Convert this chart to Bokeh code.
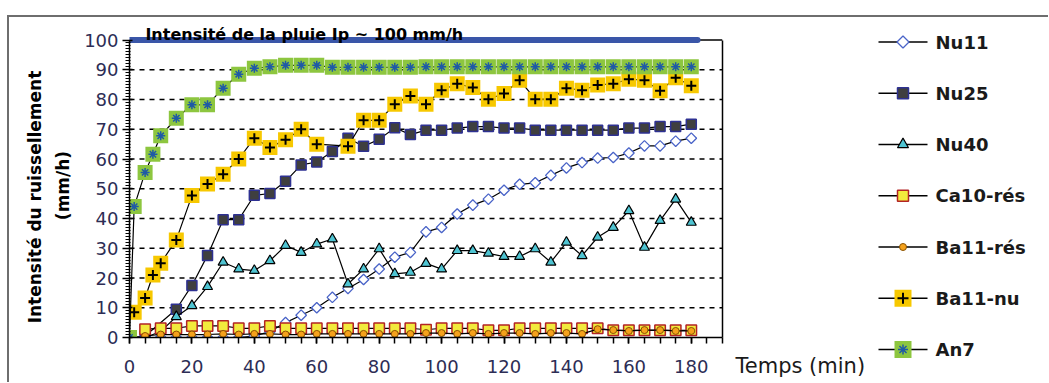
import math
from bokeh.plotting import figure
from bokeh.models import Range1d, FixedTicker, LinearAxis, Div
from bokeh.layouts import row, column
from bokeh.embed import file_html
from bokeh.resources import INLINE
from bokeh.core.properties import value

# ---------------- data ----------------
t5 = [0, 5, 10, 15, 20, 25, 30, 35, 40, 45, 50, 55, 60, 65, 70, 75, 80, 85, 90,
      95, 100, 105, 110, 115, 120, 125, 130, 135, 140, 145, 150, 155, 160, 165,
      170, 175, 180]

nu11_x = t5
nu11_y = [0, 0, 0, 0, 0, 0, 0, 0, 0.5, 2, 5, 7.5, 10, 13.5, 16.5, 19.5, 23, 27,
          28.6, 35.5, 37, 41.5, 44.5, 46.5, 49.5, 51.5, 52, 54.5, 57, 58.8, 60.3,
          60.5, 62, 64.4, 64.4, 66, 67]

nu25_x = [0, 5, 15, 20, 25, 30, 35, 40, 45, 50, 55, 60, 65, 70, 75, 80, 85, 90,
          95, 100, 105, 110, 115, 120, 125, 130, 135, 140, 145, 150, 155, 160,
          165, 170, 175, 180]
nu25_y = [0, 0.5, 9.5, 17.5, 27.6, 39.6, 39.6, 47.8, 48.4, 52.5, 58, 59,
          62.5, 67, 64.3, 66.6, 70.5, 68.2, 69.7, 69.7, 70.4, 70.9, 70.9, 70.4,
          70.4, 69.7, 69.7, 69.7, 69.7, 69.7, 69.7, 70.4, 70.4, 70.9, 70.9, 71.7]

nu40_x = t5
nu40_y = [0, 0, 2, 7, 10.7, 17.1, 25.3, 23, 22.5, 25.8, 30.9, 28.6, 31.4, 33.1,
          18, 23, 29.8, 21.4, 21.9, 24.9, 23, 29.2, 29.2, 28.3, 27.2, 27.2, 29.8,
          25.3, 32, 27.5, 33.7, 37, 42.6, 30.3, 39.3, 46.5, 38.7]

ca10_x = t5[1:]
ca10_y = [2.8, 3.1, 3.1, 3.9, 3.9, 3.9, 3.1, 3.1, 3.9, 3.1, 3.1, 3.1, 3.1, 3.1,
          3.1, 3.1, 3.1, 3.1, 2.6, 3.1, 3.1, 3.1, 2.4, 2.4, 3.1, 3.1, 3.1, 3.1,
          3.1, 3.1, 2.4, 2.4, 2.4, 2.4, 2.4, 2.4]

ba11res_x = t5[1:]
ba11res_y = [0.5, 1, 1, 1, 1, 1.2, 1, 1.2, 1.2, 1, 1, 1.2, 1.2, 1.2, 1.2, 1.2,
             1.2, 1.2, 1.5, 1.5, 1.2, 1.5, 1.2, 1.5, 1.5, 1.2, 1.5, 1.5, 1.2,
             2.8, 2.5, 2.2, 2.5, 2.5, 2.2, 2.2]

ba11nu_x = [1.5, 5, 7.5, 10, 15, 20, 25, 30, 35, 40, 45, 50, 55, 60, 70, 75, 80,
            85, 90, 95, 100, 105, 110, 115, 120, 125, 130, 135, 140, 145, 150,
            155, 160, 165, 170, 175, 180]
ba11nu_y = [8.5, 13.3, 21, 25, 32.8, 47.7, 51.6, 54.9, 60, 67, 63.9, 66.5, 70, 65,
            64.3, 73, 73, 78.4, 81.2, 78.4, 83.1, 85.3, 84, 80.1, 82, 86.5, 80.1,
            80.1, 83.8, 83.1, 84.9, 85.3, 86.8, 86.5, 82.9, 87.3, 84.6]

an7_x = [0, 1.5, 5, 7.5, 10, 15, 20, 25, 30, 35, 40, 45, 50, 55, 60, 65, 70, 75,
         80, 85, 90, 95, 100, 105, 110, 115, 120, 125, 130, 135, 140, 145, 150,
         155, 160, 165, 170, 175, 180]
an7_y = [0, 44, 55.5, 61.6, 67.8, 73.7, 78.2, 78.2, 83.8, 88.5, 90.5, 91, 91.5,
         91.5, 91.5, 90.8, 90.8, 90.8, 90.8, 90.8, 90.8, 91, 91, 91, 91, 91, 91,
         91, 91, 91, 91, 91, 91, 91, 91, 91, 91, 91, 91]

rain_x = [0, 182]
rain_y = [100, 100]

series_names = ["Nu11", "Nu25", "Nu40", "Ca10-rés", "Ba11-rés", "Ba11-nu", "An7"]
title_text = "Intensité de la pluie Ip ~ 100 mm/h"
ylabel_1 = "Intensité du ruissellement"
ylabel_2 = "(mm/h)"
xlabel = "Temps (min)"
x_major = [0, 20, 40, 60, 80, 100, 120, 140, 160, 180]
x_minor = list(range(0, 195, 5))
y_major = [0, 10, 20, 30, 40, 50, 60, 70, 80, 90, 100]
y_grid = [10, 20, 30, 40, 50, 60, 70, 80, 90]
y_minor = list(range(0, 101, 1))
X_MAX = 190
Y_MAX = 100

# ---------------- styles ----------------
FONT = "DejaVu Sans"
BORDER = "#6e6e6e"
styles = [
    [dict(marker="square", angle=math.pi / 4, fill_color="white", line_color="#4a64c8", line_width=1.3, size=7.5, lsize=8.5)],
    [dict(marker="square", fill_color="#3f3f3f", line_color="#2e3192", line_width=1.5, size=10, lsize=11)],
    [dict(marker="triangle", fill_color="#4fc4d2", line_color="black", line_width=1.2, size=10, lsize=11)],
    [dict(marker="square", fill_color="#f2ea3c", line_color="#b32424", line_width=1.5, size=10.5, lsize=11)],
    [dict(marker="circle", fill_color="#f5a21c", line_color="#8a5200", line_width=1, size=7, lsize=7)],
    [dict(marker="square", fill_color="#f7c800", line_color=None, line_width=0, size=15, lsize=17),
     dict(marker="cross", fill_color=None, line_color="black", line_width=2, size=10, lsize=11)],
    [dict(marker="square", fill_color="#8dc63f", line_color=None, line_width=0, size=15, lsize=17),
     dict(marker="asterisk", fill_color=None, line_color="#1f5aa6", line_width=1.5, size=9, lsize=10)],
]
data = [(nu11_x, nu11_y), (nu25_x, nu25_y), (nu40_x, nu40_y), (ca10_x, ca10_y),
        (ba11res_x, ba11res_y), (ba11nu_x, ba11nu_y), (an7_x, an7_y)]

# ---------------- layout geometry (pixels) ----------------
TOP_GAP = 15
LEFT_GAP = 7
ROW_H = 365
WA, WB, WC = 652, 318, 69
FRAME_TOP_PAD = 0
FRAME_BOTTOM_PAD = 45
frame_h = ROW_H - FRAME_TOP_PAD - FRAME_BOTTOM_PAD          # 320 px
px_per_y = 2.975                                              # 10 units ~ 29.75 px
y_end = frame_h / px_per_y

# ---------------- main figure ----------------
p = figure(width=WA, height=ROW_H, x_range=Range1d(0, X_MAX), y_range=Range1d(0, y_end),
           output_backend="svg", toolbar_location=None, title=None,
           min_border_left=51, min_border_right=8, min_border_top=FRAME_TOP_PAD,
           min_border_bottom=FRAME_BOTTOM_PAD, x_axis_type=None, y_axis_type=None)
p.frame_align = False
p.outline_line_color = None
p.background_fill_color = "white"
p.border_fill_color = "white"

tick_color = "#2d2d55"
xax = LinearAxis(ticker=FixedTicker(ticks=x_major, minor_ticks=x_minor))
xax.axis_line_color = "black"
xax.axis_line_width = 1.5
xax.major_tick_in = 0
xax.major_tick_out = 6
xax.minor_tick_in = 0
xax.minor_tick_out = 6
xax.major_tick_line_width = 1.5
xax.minor_tick_line_width = 1.5
xax.major_label_standoff = 16
xax.major_label_text_font = FONT
xax.major_label_text_font_size = "18px"
xax.major_label_text_color = tick_color
p.add_layout(xax, "below")

yax = LinearAxis(ticker=FixedTicker(ticks=y_major, minor_ticks=y_minor), bounds=(0, Y_MAX))
yax.axis_line_color = "black"
yax.axis_line_width = 1.5
yax.major_tick_in = 3
yax.major_tick_out = 7
yax.minor_tick_in = 1
yax.minor_tick_out = 4
yax.major_tick_line_width = 1.5
yax.major_label_standoff = 4
yax.major_label_text_font = FONT
yax.major_label_text_font_size = "18px"
yax.major_label_text_color = tick_color
p.add_layout(yax, "left")

rax = LinearAxis(ticker=FixedTicker(ticks=[], minor_ticks=[]), bounds=(0, Y_MAX))
rax.axis_line_color = "black"
rax.axis_line_width = 1.5
rax.major_tick_line_color = None
rax.minor_tick_line_color = None
rax.major_label_text_font_size = "0px"
rax.major_label_standoff = 0
p.add_layout(rax, "right")

# dashed horizontal grid, limited to the plotting box
p.multi_line(xs=[[0, X_MAX] for _ in y_grid], ys=[[g, g] for g in y_grid],
             line_color="black", line_width=1.5, line_dash="5 5")
# top frame border
p.line([0, X_MAX], [Y_MAX, Y_MAX], line_color="black", line_width=1.5)
# rain intensity line
p.line(rain_x, rain_y, line_color="#3a56a8", line_width=6, line_cap="round")

for (xs, ys), layers in zip(data, styles):
    p.line(xs, ys, line_color="black", line_width=1.2)
    for st in layers:
        p.scatter(xs, ys, marker=st["marker"], size=st["size"], angle=st.get("angle", 0),
                  fill_color=st["fill_color"], line_color=st["line_color"],
                  line_width=st["line_width"])

# title inside the extended frame, above the 100 line
p.text(x=[5.1], y=[102.0], text=[title_text], text_font=value(FONT),
       text_font_style="bold", text_font_size="16px", text_color="black",
       text_baseline="alphabetic", text_align="left")

# ---------------- y-label figure (left) ----------------
pc = figure(width=WC, height=ROW_H, x_range=Range1d(0, WC), y_range=Range1d(0, ROW_H),
            output_backend="svg", toolbar_location=None, title=None,
            min_border=0, x_axis_type=None, y_axis_type=None)
pc.frame_align = False
pc.outline_line_color = None
pc.grid.visible = False
pc.text(x=[25], y=[185.5], text=[ylabel_1], angle=math.pi / 2, text_font=value(FONT),
        text_font_style="bold", text_font_size="17px", text_color="black",
        text_baseline="alphabetic", text_align="center")
pc.text(x=[53], y=[197], text=[ylabel_2], angle=math.pi / 2, text_font=value(FONT),
        text_font_style="bold", text_font_size="17px", text_color="black",
        text_baseline="alphabetic", text_align="center")

# ---------------- legend / x-label figure (right) ----------------
p2 = figure(width=WB, height=ROW_H, x_range=Range1d(0, WB), y_range=Range1d(0, ROW_H),
            output_backend="svg", toolbar_location=None, title=None,
            min_border=0, x_axis_type=None, y_axis_type=None)
p2.frame_align = False
p2.outline_line_color = None
p2.grid.visible = False
p2.background_fill_color = "white"
p2.border_fill_color = "white"

p2.text(x=[5], y=[17], text=[xlabel], text_font=value(FONT), text_font_size="21px",
        text_color="#1a1a1a", text_baseline="middle", text_align="left")

leg_top = 340.5
leg_step = 51.25
leg_ys = [leg_top - i * leg_step for i in range(len(series_names))]
for yy, layers in zip(leg_ys, styles):
    p2.line([148, 197], [yy, yy], line_color="black", line_width=1.5)
    for st in layers:
        p2.scatter([172.5], [yy], marker=st["marker"], size=st["lsize"], angle=st.get("angle", 0),
                   fill_color=st["fill_color"], line_color=st["line_color"],
                   line_width=st["line_width"])
p2.text(x=[205] * len(series_names), y=leg_ys, text=series_names,
        text_font=value(FONT), text_font_style="bold", text_font_size="18px",
        text_baseline="middle", text_align="left", text_color="#1a1a1a")

# ---------------- outer chart border ----------------
BOX_W = 2 + WC + WA + WB
spacer = Div(text="", width=LEFT_GAP + BOX_W, height=TOP_GAP, margin=0)
top_border = row(Div(text="", width=LEFT_GAP, height=2, margin=0),
                 Div(text="", width=BOX_W, height=2, margin=0,
                     styles={"background-color": BORDER}), spacing=0)
left_gap = Div(text="", width=LEFT_GAP, height=ROW_H, margin=0)
left_border = Div(text="", width=2, height=ROW_H, margin=0,
                  styles={"background-color": BORDER})

layout = column(spacer, top_border,
                row(left_gap, left_border, pc, p, p2, spacing=0), spacing=0)

open("out.html", "w").write(file_html(layout, INLINE))
